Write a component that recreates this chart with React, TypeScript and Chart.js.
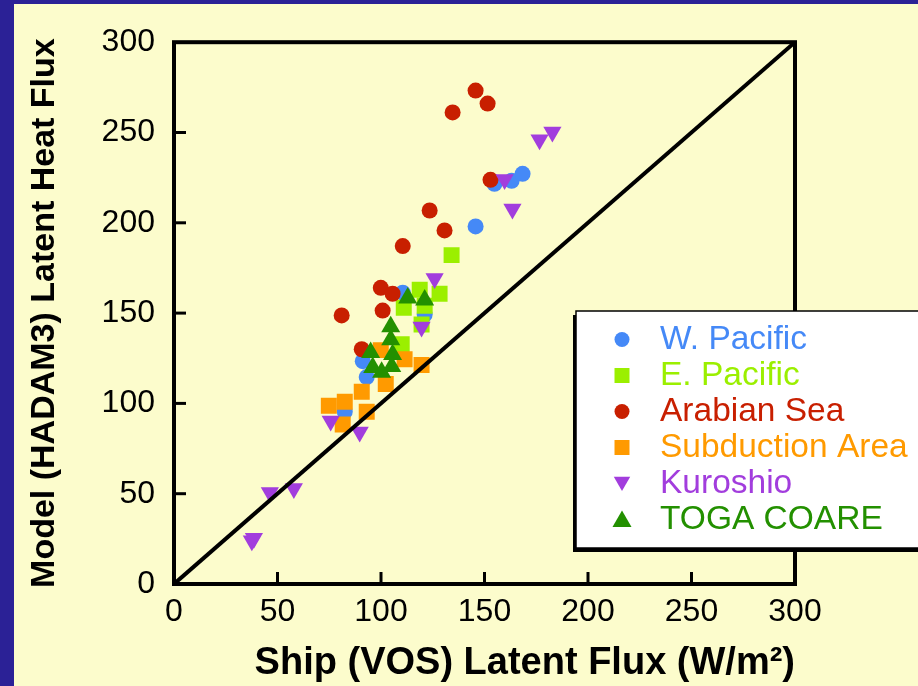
import React, { useEffect, useRef } from "react";
import { Chart, registerables } from "chart.js";

Chart.register(...registerables);

// ---- data ----
const AXIS_TICKS = [0, 50, 100, 150, 200, 250, 300];
const X_TITLE = "Ship (VOS) Latent Flux (W/m²)";
const Y_TITLE = "Model (HADAM3) Latent Heat Flux";
const DIAGONAL = [0, 300];

const SERIES_NAMES = ["W. Pacific", "E. Pacific", "Arabian Sea", "Subduction Area", "Kuroshio", "TOGA COARE"];

const wPacificX = [82.5, 91.2, 93.1, 110.5, 121.1, 145.7, 154.8, 163.1, 168.4];
const wPacificY = [95.4, 123.4, 114.6, 161.3, 149.2, 198.0, 221.6, 223.3, 227.1];

const ePacificX = [134.1, 128.3, 118.7, 121.1, 111.0, 119.6, 110.0];
const ePacificY = [182.1, 160.7, 162.9, 154.1, 153.0, 143.7, 132.7];

const arabianX = [81.0, 90.7, 99.9, 100.8, 105.6, 110.5, 123.5, 130.7, 134.6, 145.7, 151.5, 152.9];
const arabianY = [148.7, 130.0, 164.0, 151.4, 160.7, 187.1, 206.8, 195.8, 261.1, 273.2, 266.0, 223.8];

const subductionX = [99.9, 111.4, 119.6, 102.3, 90.7, 82.5, 74.8, 93.1, 81.5];
const subductionY = [129.5, 124.5, 121.2, 110.8, 106.4, 100.9, 98.7, 95.4, 88.3];

const kuroshioX = [37.6, 38.6, 46.3, 57.9, 75.7, 89.7, 119.6, 125.9, 159.7, 163.5, 176.6, 182.8];
const kuroshioY = [24.0, 25.4, 50.7, 52.9, 90.2, 84.1, 142.3, 169.2, 224.0, 207.6, 246.0, 250.3];

const togaX = [112.9, 121.1, 104.7, 104.7, 95.0, 105.6, 96.0, 105.2, 100.3];
const togaY = [158.3, 157.2, 142.4, 135.3, 128.2, 127.1, 119.9, 120.5, 117.2];

// ---- styles ----
const FONT = '"Liberation Sans", Arial, Helvetica, sans-serif';
const COLORS = ["#4589F7", "#9BEF00", "#C81F00", "#FF9A00", "#A23DDD", "#239000"];
const STYLES = ["circle", "rect", "circle", "rect", "triangle", "triangle"];
const RADII = [8, 11.3, 8, 11.3, 10.5, 11];
const ROTATIONS = [0, 0, 0, 0, 180, 0];

const toPoints = (xs: number[], ys: number[]) => xs.map((x, i) => ({ x, y: ys[i] }));

function drawMarker(ctx: CanvasRenderingContext2D, style: string, x: number, y: number, r: number, rot: number, color: string) {
  ctx.save();
  ctx.fillStyle = color;
  ctx.beginPath();
  if (style === "circle") {
    ctx.arc(x, y, r, 0, Math.PI * 2);
  } else if (style === "rect") {
    const s = Math.SQRT1_2 * r;
    ctx.rect(x - s, y - s, 2 * s, 2 * s);
  } else {
    let rad = (rot * Math.PI) / 180;
    const step = (2 * Math.PI) / 3;
    ctx.moveTo(x + Math.sin(rad) * r, y - Math.cos(rad) * r);
    rad += step;
    ctx.lineTo(x + Math.sin(rad) * r, y - Math.cos(rad) * r);
    rad += step;
    ctx.lineTo(x + Math.sin(rad) * r, y - Math.cos(rad) * r);
    ctx.closePath();
  }
  ctx.fill();
  ctx.restore();
}

const frameAndTicks = {
  id: "frameAndTicks",
  afterDatasetsDraw(chart: any) {
    const { ctx, chartArea } = chart;
    const { left, right, top, bottom } = chartArea;
    ctx.save();
    ctx.strokeStyle = "#000";
    ctx.lineWidth = 4;
    ctx.strokeRect(left, top, right - left, bottom - top);
    ctx.lineWidth = 3;
    const xs = chart.scales.x;
    const ys = chart.scales.y;
    xs.ticks.forEach((t: any) => {
      if (t.value <= xs.min || t.value >= xs.max) return;
      const px = xs.getPixelForValue(t.value);
      ctx.beginPath();
      ctx.moveTo(px, bottom);
      ctx.lineTo(px, bottom - 12);
      ctx.stroke();
    });
    ys.ticks.forEach((t: any) => {
      if (t.value <= ys.min || t.value >= ys.max) return;
      const py = ys.getPixelForValue(t.value);
      ctx.beginPath();
      ctx.moveTo(left, py);
      ctx.lineTo(left + 12, py);
      ctx.stroke();
    });
    ctx.restore();
  },
};

const boxLegend = {
  id: "boxLegend",
  afterDraw(chart: any) {
    const ctx = chart.ctx;
    const bx = 562, by = 307, bw = 360, bh = 237;
    ctx.save();
    ctx.fillStyle = "#000";
    ctx.fillRect(bx - 3, by + 4, bw, bh);
    ctx.fillStyle = "#FFFFFF";
    ctx.fillRect(bx, by, bw, bh);
    ctx.strokeStyle = "#000";
    ctx.lineWidth = 1.5;
    ctx.strokeRect(bx, by, bw, bh);
    ctx.font = `33.5px ${FONT}`;
    ctx.textBaseline = "middle";
    ctx.textAlign = "left";
    const sets = chart.data.datasets.filter((d: any) => d.isSeries);
    sets.forEach((d: any, i: number) => {
      const y = 335.5 + i * 36;
      const r = d.pointStyle === "circle" ? 7.5 : d.pointStyle === "rect" ? 10.6 : d.pointRotation ? 9.5 : 11;
      drawMarker(ctx, d.pointStyle, 608, d.pointStyle === "triangle" ? y + (d.pointRotation ? -2 : 2) : y, r, d.pointRotation || 0, d.backgroundColor);
      ctx.fillStyle = d.backgroundColor;
      ctx.fillText(d.label, 646, y);
    });
    ctx.restore();
  },
};

export default function App() {
  const ref = useRef<HTMLCanvasElement>(null);

  useEffect(() => {
    if (!ref.current) return;
    const seriesData = [
      toPoints(wPacificX, wPacificY),
      toPoints(ePacificX, ePacificY),
      toPoints(arabianX, arabianY),
      toPoints(subductionX, subductionY),
      toPoints(kuroshioX, kuroshioY),
      toPoints(togaX, togaY),
    ];
    const datasets: any[] = seriesData.map((data, i) => ({
      label: SERIES_NAMES[i],
      data,
      isSeries: true,
      pointStyle: STYLES[i],
      pointRadius: RADII[i],
      pointRotation: ROTATIONS[i],
      backgroundColor: COLORS[i],
      borderColor: COLORS[i],
      pointBorderWidth: 0,
      order: 6 - i,
    }));
    datasets.push({
      label: "1:1",
      data: toPoints(DIAGONAL, DIAGONAL),
      showLine: true,
      borderColor: "#000",
      borderWidth: 4,
      pointRadius: 0,
      order: 0,
    });

    const tickFont = { family: FONT, size: 32 };
    const chart = new Chart(ref.current, {
      type: "scatter",
      data: { datasets },
      options: {
        responsive: false,
        animation: false,
        devicePixelRatio: 1,
        layout: { padding: { top: 33, right: 123, left: 0, bottom: 0 } },
        plugins: { legend: { display: false }, tooltip: { enabled: false } },
        scales: {
          x: {
            type: "linear",
            min: AXIS_TICKS[0],
            max: AXIS_TICKS[AXIS_TICKS.length - 1],
            afterBuildTicks: (s: any) => {
              s.ticks = AXIS_TICKS.map((v) => ({ value: v }));
            },
            grid: { display: false, drawTicks: false },
            border: { display: false },
            ticks: { color: "#000", font: tickFont, padding: 9, maxRotation: 0 },
            title: {
              display: true,
              text: X_TITLE,
              align: "end",
              color: "#000",
              font: { family: FONT, size: 38, weight: "bold" },
              padding: { top: 0, bottom: 0 },
            },
            afterFit: (s: any) => {
              s.height = 102;
            },
          },
          y: {
            type: "linear",
            min: AXIS_TICKS[0],
            max: AXIS_TICKS[AXIS_TICKS.length - 1],
            afterBuildTicks: (s: any) => {
              s.ticks = AXIS_TICKS.map((v) => ({ value: v }));
            },
            grid: { display: false, drawTicks: false },
            border: { display: false },
            ticks: { color: "#000", font: tickFont, padding: 19 },
            title: {
              display: true,
              text: Y_TITLE,
              color: "#000",
              font: { family: FONT, size: 34, weight: "bold" },
              padding: { top: 10, bottom: 0 },
            },
            afterFit: (s: any) => {
              s.width = 160;
            },
          },
        },
      } as any,
      plugins: [frameAndTicks, boxLegend],
    });
    return () => chart.destroy();
  }, []);

  return (
    <div
      style={{
        position: "fixed",
        left: 0,
        top: 0,
        width: 918,
        height: 686,
        background: "#2B2196",
        overflow: "hidden",
      }}
    >
      <div style={{ position: "absolute", left: 14, top: 4, width: 904, height: 682, background: "#FCFCCC" }}>
        <canvas ref={ref} width={904} height={682} style={{ display: "block", width: 904, height: 682 }} />
      </div>
    </div>
  );
}
